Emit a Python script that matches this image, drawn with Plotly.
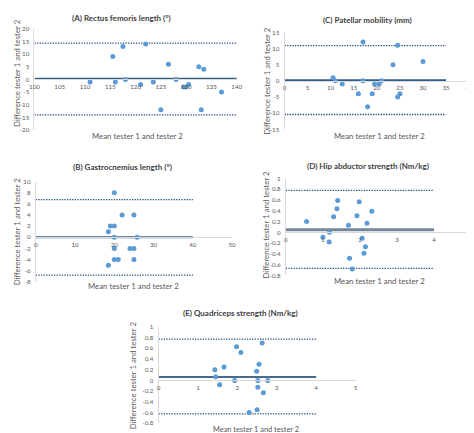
import plotly.graph_objects as go

# ---------------- data ----------------
# (A) Rectus femoris length
A_mean_x = [111, 115.5, 116, 117.5, 118, 121, 122, 123.5, 125, 126.5, 128, 129.5, 130, 130.5, 132.5, 133, 133.5, 137]
A_diff = [-1, 9, -1, 13, 0, -2, 14, -1, -12, 6, 0, -3, -3, -2, 5, -12, 4, -5]
A_bias, A_upper, A_lower = 0.3, 14.3, -14.0
A_line_x = [100, 140]

# (C) Patellar mobility
C_mean_x = [10.5, 11, 12.5, 16, 17, 17, 18, 19, 19.5, 20.5, 21, 23.5, 24.5, 24.5, 25, 30]
C_diff = [1, 0, -1, -4, 12, 0, -8, -4, -1, -1, 0, 5, 11, -5, -4, 6]
C_bias, C_upper, C_lower = 0.2, 10.9, -10.4
C_line_x = [0, 35]

# (B) Gastrocnemius length
B_mean_x = [20, 22, 25, 19, 20, 18.5, 20, 25.8, 20, 24, 25, 20, 21, 25, 18.5]
B_diff = [8, 4, 4, 2, 2, 1, 0, 0, -2, -2, -2, -4, -4, -4, -5]
B_bias, B_upper, B_lower = 0.0, 6.75, -6.8
B_line_x = [0, 40]

# (D) Hip abductor strength
D_mean_x = [0.56, 1.0, 1.18, 1.17, 1.29, 1.38, 1.40, 1.69, 1.72, 1.79, 1.92, 1.98, 2.06, 2.11, 2.15, 2.19, 2.32]
D_diff = [0.2, -0.09, 0.0, -0.18, 0.29, 0.44, 0.59, 0.13, -0.48, -0.68, 0.31, 0.57, -0.11, -0.39, -0.27, 0.17, 0.39]
D_bias, D_upper, D_lower = 0.05, 0.78, -0.67
D_line_x = [0, 4]

# (E) Quadriceps strength
E_mean_x = [1.43, 1.45, 1.55, 1.66, 1.93, 1.98, 2.09, 2.30, 2.49, 2.52, 2.52, 2.50, 2.55, 2.63, 2.66, 2.77]
E_diff = [0.2, 0.07, -0.08, 0.25, 0.0, 0.63, 0.52, -0.6, 0.17, 0.0, -0.13, -0.55, 0.3, 0.7, -0.23, 0.0]
E_bias, E_upper, E_lower = 0.065, 0.77, -0.625
E_line_x = [0, 4]

titles = ["(A) Rectus femoris length (°)", "(C) Patellar mobility (mm)",
          "(B) Gastrocnemius length (°)", "(D) Hip abductor strength (Nm/kg)",
          "(E) Quadriceps strength (Nm/kg)"]
x_title = "Mean tester 1 and tester 2"
y_title = "Difference tester 1 and tester 2"

A_xticks = [100, 105, 110, 115, 120, 125, 130, 135, 140]
A_yticks = [-20, -15, -10, -5, 0, 5, 10, 15, 20]
C_xticks = [0, 5, 10, 15, 20, 25, 30, 35, 40]
C_yticks = [-15, -10, -5, 0, 5, 10, 15]
B_xticks = [0, 10, 20, 30, 40, 50]
B_yticks = [-8, -6, -4, -2, 0, 2, 4, 6, 8, 10]
S_xticks = [0, 1, 2, 3, 4, 5]
S_yticks = [-0.8, -0.6, -0.4, -0.2, 0, 0.2, 0.4, 0.6, 0.8, 1]
S_yticktext = ["-0.8", "-0.6", "-0.4", "-0.2", "0", "0.2", "0.4", "0.6", "0.8", "1"]

# ---------------- layout geometry (pixels) ----------------
W, H = 474, 433
FONT = "Lato"
PT_COLOR = "#5B9BD5"
DOT_COLOR = "#264A7E"
TICK_COLOR = "#595959"
AXIS_LINE = "#D9D9D9"

panels = [
    dict(x=A_mean_x, y=A_diff, b=A_bias, u=A_upper, l=A_lower, lx=A_line_x,
         xr=[100, 140], yr=[-20, 20], xd=[22, 229], yd=[17, 120], xt=A_xticks, yt=A_yticks, ytt=None,
         bc="#2F5C8A", bw=2, t=(111, 6), xl=(127, 126), yl=(4, 62), xs=7.8),
    dict(x=C_mean_x, y=C_diff, b=C_bias, u=C_upper, l=C_lower, lx=C_line_x,
         xr=[0, 40], yr=[-15, 15], xd=[278, 467], yd=[20.7, 119.3], xt=C_xticks, yt=C_yticks, ytt=None,
         bc="#2F5C8A", bw=2, t=(363, 8), xl=(375, 126), yl=(260, 70), xs=7.8),
    dict(x=B_mean_x, y=B_diff, b=B_bias, u=B_upper, l=B_lower, lx=B_line_x,
         xr=[0, 50], yr=[-8, 10], xd=[23.3, 224.3], yd=[172.3, 274.3], xt=B_xticks, yt=B_yticks, ytt=None,
         bc="#2F5C8A", bw=2, t=(112, 158), xl=(123, 279), yl=(5, 223), xs=7.8),
    dict(x=D_mean_x, y=D_diff, b=D_bias, u=D_upper, l=D_lower, lx=D_line_x,
         xr=[0, 5], yr=[-0.8, 1], xd=[279.3, 469], yd=[169.3, 267.7], xt=S_xticks, yt=S_yticks, ytt=S_yticktext,
         bc="#74869A", bw=3, t=(363, 157), xl=(375, 273), yl=(259, 216), xs=7.8),
    dict(x=E_mean_x, y=E_diff, b=E_bias, u=E_upper, l=E_lower, lx=E_line_x,
         xr=[0, 5], yr=[-0.8, 1], xd=[149, 350.7], yd=[320, 418], xt=S_xticks, yt=S_yticks, ytt=S_yticktext,
         bc="#4A6A8C", bw=2, t=(233, 306), xl=(249, 424.5), yl=(123, 369), xs=7.4),
]

fig = go.Figure()
layout = {}
annotations = []

for i, p in enumerate(panels):
    n = "" if i == 0 else str(i + 1)
    xa, ya = "x" + n, "y" + n
    for lim in (p["u"], p["l"]):
        fig.add_trace(go.Scatter(x=p["lx"], y=[lim, lim], mode="lines",
                                 line=dict(color=DOT_COLOR, width=1.3, dash="1.3px,1.3px"),
                                 xaxis=xa, yaxis=ya, showlegend=False, hoverinfo="skip"))
    fig.add_trace(go.Scatter(x=p["lx"], y=[p["b"], p["b"]], mode="lines",
                             line=dict(color=p["bc"], width=p["bw"]),
                             xaxis=xa, yaxis=ya, showlegend=False, hoverinfo="skip"))
    fig.add_trace(go.Scatter(x=p["x"], y=p["y"], mode="markers",
                             marker=dict(color=PT_COLOR, size=5),
                             xaxis=xa, yaxis=ya, showlegend=False))

    y0, y1 = p["yr"]
    top, bot = p["yd"]
    zero_px = top + (y1 - 0) / (y1 - y0) * (bot - top)
    layout["xaxis" + n] = dict(
        domain=[p["xd"][0] / W, p["xd"][1] / W], range=p["xr"],
        anchor="free", position=1 - zero_px / H,
        showline=True, linecolor=AXIS_LINE, linewidth=1,
        showgrid=False, zeroline=False, ticks="",
        tickvals=p["xt"], ticktext=[str(v) for v in p["xt"]],
        tickfont=dict(family=FONT, size=6.2, color=TICK_COLOR), ticklabelstandoff=1,
    )
    layout["yaxis" + n] = dict(
        domain=[1 - bot / H, 1 - top / H], range=p["yr"], anchor=xa,
        showline=True, linecolor=AXIS_LINE, linewidth=1,
        showgrid=False, zeroline=False, ticks="",
        tickvals=p["yt"], ticktext=p["ytt"] if p["ytt"] else [str(v) for v in p["yt"]],
        tickfont=dict(family=FONT, size=6.2, color=TICK_COLOR), ticklabelstandoff=3,
    )
    annotations.append(dict(text="<b>" + titles[i] + "</b>", x=p["t"][0] / W, y=1 - p["t"][1] / H,
                            xref="paper", yref="paper", showarrow=False, xanchor="center", yanchor="middle",
                            font=dict(family=FONT, size=8, color="#404040")))
    annotations.append(dict(text=x_title, x=p["xl"][0] / W, y=1 - p["xl"][1] / H,
                            xref="paper", yref="paper", showarrow=False, xanchor="center", yanchor="middle",
                            borderpad=0,
                            font=dict(family=FONT, size=p["xs"], color=TICK_COLOR)))
    annotations.append(dict(text=y_title, x=p["yl"][0] / W, y=1 - p["yl"][1] / H, textangle=-90,
                            xref="paper", yref="paper", showarrow=False, xanchor="center", yanchor="middle",
                            borderpad=0,
                            font=dict(family=FONT, size=7.8, color=TICK_COLOR)))

fig.update_layout(
    width=W, height=H, margin=dict(l=0, r=0, t=0, b=0),
    paper_bgcolor="white", plot_bgcolor="white",
    annotations=annotations, **layout,
)

fig.write_html("out.html")
